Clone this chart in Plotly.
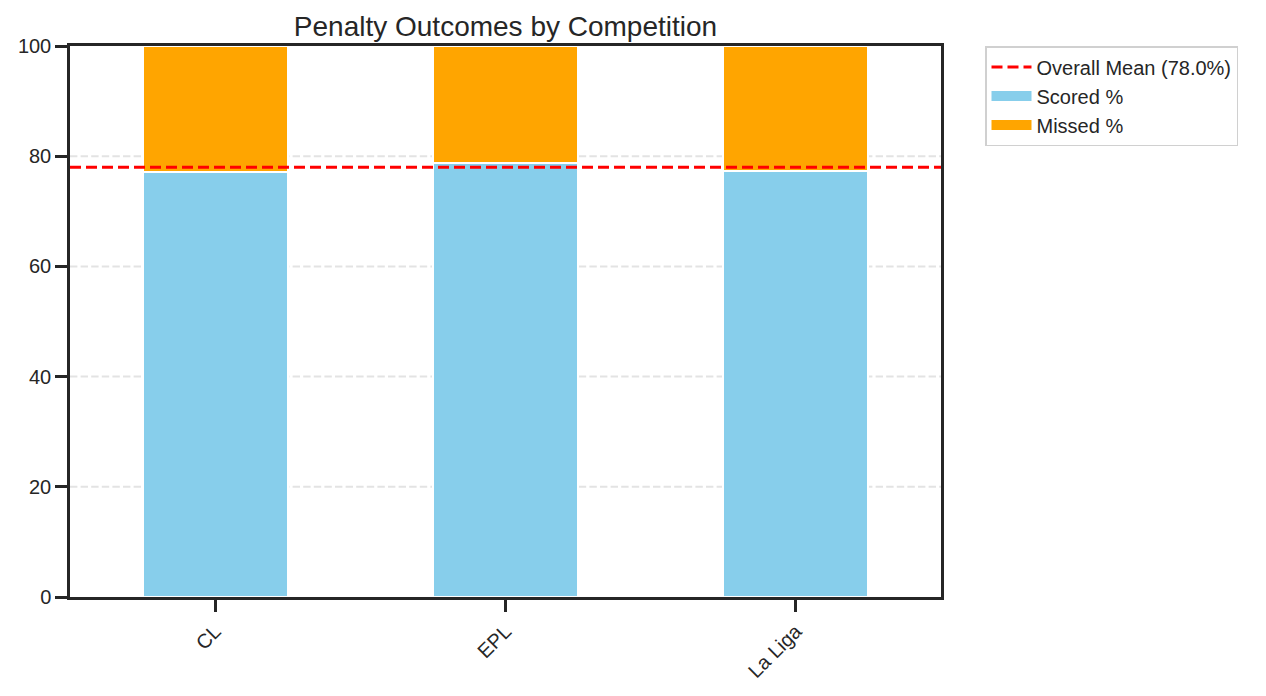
import plotly.graph_objects as go

competitions = ["CL", "EPL", "La Liga"]
scored_pct = [77.2, 78.8, 77.4]
missed_pct = [100 - v for v in scored_pct]
overall_mean = 78.0
y_ticks = [0, 20, 40, 60, 80, 100]

SCORED_COLOR = "#87CEEB"
MISSED_COLOR = "#FFA500"
INK = "#262626"

# page body has an 8px default margin; compensate so the plot lands where the reference has it
OFF = 8
W, H = 1266, 696
PL, PR, PT, PB = 70, 941, 46, 597  # plot area in page pixels
ml = PL - OFF
mt = PT - OFF
mr = W - (PR - OFF)
mb = H - (PB - OFF)

fig = go.Figure()
# bars (no legend entries; legend swatches are drawn by dummy traces below)
fig.add_trace(go.Bar(
    x=competitions, y=scored_pct, name="Scored %", showlegend=False,
    marker=dict(color=SCORED_COLOR, line=dict(color="white", width=2)),
    width=0.5,
))
fig.add_trace(go.Bar(
    x=competitions, y=missed_pct, name="Missed %", showlegend=False,
    marker=dict(color=MISSED_COLOR, line=dict(color="white", width=2)),
    width=0.5,
))
# legend entries
fig.add_trace(go.Scatter(
    x=[competitions[0]], y=[None], mode="lines", legendgroup="a", legendrank=1,
    line=dict(color="red", width=3, dash="11px,5px"),
    name=f"Overall Mean ({overall_mean:.1f}%)",
))
fig.add_trace(go.Scatter(
    x=[competitions[0]], y=[None], mode="lines", legendgroup="b", legendrank=2,
    line=dict(color=SCORED_COLOR, width=12), name="Scored %",
))
fig.add_trace(go.Scatter(
    x=[competitions[0]], y=[None], mode="lines", legendgroup="c", legendrank=3,
    line=dict(color=MISSED_COLOR, width=12), name="Missed %",
))

for v in y_ticks[1:-1]:
    fig.add_shape(type="line", xref="paper", x0=0, x1=1, yref="y", y0=v, y1=v,
                  line=dict(color="#e3e3e3", width=2, dash="7.4px,3.2px"), layer="below")

fig.add_shape(type="line", xref="paper", x0=0, x1=1, yref="y",
              y0=overall_mean, y1=overall_mean,
              line=dict(color="red", width=3, dash="11px,5px"), layer="above")

fig.update_layout(
    width=W, height=H,
    barmode="stack",
    paper_bgcolor="white", plot_bgcolor="white",
    margin=dict(l=ml, r=mr, t=mt, b=mb, autoexpand=False),
    font=dict(family="Liberation Sans, Arial, sans-serif", color=INK, size=20),
    title=dict(text="Penalty Outcomes by Competition",
               x=((PL + PR) / 2 - OFF) / W, xanchor="center",
               y=1 - (26 - OFF) / H, yanchor="middle", yref="container",
               automargin=False, font=dict(size=28, color=INK)),
    legend=dict(x=(985 - OFF - ml) / (PR - PL), y=1, xanchor="left", yanchor="top",
                bordercolor="#d0d0d0", borderwidth=1.5, bgcolor="white",
                font=dict(size=20), traceorder="grouped", tracegroupgap=0,
                itemwidth=40),
    xaxis=dict(type="category", range=[-0.5, 2.5], tickangle=-45, showline=True,
               linecolor=INK, automargin=False,
               linewidth=2.5, mirror=True, ticks="outside", ticklen=12, tickwidth=2.5,
               tickcolor=INK, showgrid=False, tickfont=dict(size=20)),
    yaxis=dict(range=[0, 100], tickvals=y_ticks, showline=True, linecolor=INK,
               automargin=False,
               linewidth=2.5, mirror=True, ticks="outside", ticklen=12, tickwidth=2.5,
               tickcolor=INK, showgrid=False, zeroline=False, tickfont=dict(size=20)),
)

fig.write_html("out.html")
